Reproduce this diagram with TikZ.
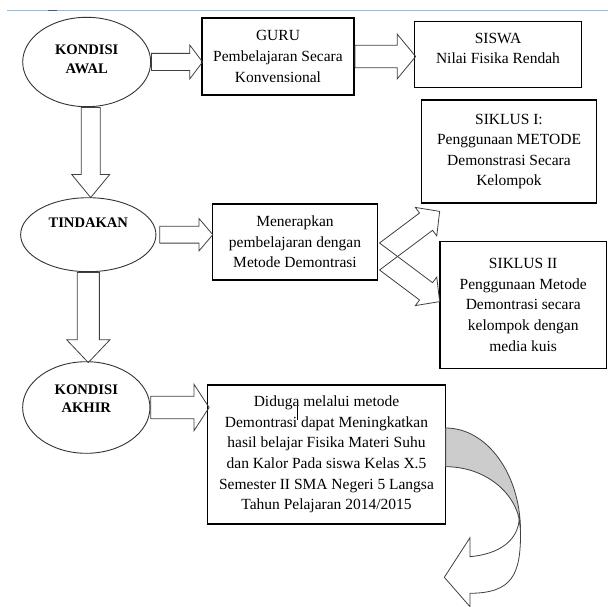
\documentclass[tikz,border=0pt]{standalone}
\usepackage{fontspec}
\setmainfont{Liberation Serif}
\usetikzlibrary{shapes.geometric,shapes.arrows}
\definecolor{garisbiru}{RGB}{150,186,232}
\definecolor{birutua}{RGB}{60,90,140}
\tikzstyle{kotak} = [draw, line width=1.1pt, align=center, inner sep=0pt, font=\fontsize{15.5}{20.6}\selectfont]
\tikzstyle{oval} = [ellipse, draw=black!80, line width=0.9pt, align=center, inner sep=0pt, font=\fontsize{14.6}{18.5}\selectfont\bfseries]
\tikzstyle{panah} = [single arrow, draw=black!75, line width=0.8pt, single arrow head indent=0pt, inner sep=0pt, anchor=tail]
\tikzstyle{garis} = [draw=black!75, line width=0.8pt, line join=miter]

\begin{document}
\begin{tikzpicture}[x=1pt, y=-1pt]
	  \useasboundingbox (0,0) rectangle (608,607);
	  \draw [garisbiru, line width=1pt] (7,10.7) -- (608,10.7);
	  \draw [birutua, line width=1.6pt] (48,10.7) -- (57,10.7);

	  \node (a) at (86.7,62) [oval, minimum width=128pt, minimum height=89.4pt, text depth=6pt] {KONDISI\\AWAL};
	  \node (b) at (278,56.5) [kotak, minimum width=152pt, minimum height=77pt] {GURU\\Pembelajaran Secara\\Konvensional};
	  \node (c) at (498,54.5) [kotak, minimum width=166.6pt, minimum height=65.6pt, text depth=12pt] {SISWA\\Nilai Fisika Rendah};
	  \node (d) at (88.3,234.7) [oval, minimum width=135.3pt, minimum height=74pt, text depth=24pt] {TINDAKAN};
	  \node (e) at (295,242) [kotak, minimum width=165.4pt, minimum height=76pt] {Menerapkan\\pembelajaran dengan\\Metode Demontrasi};
	  \node (f) at (509,151.5) [kotak, minimum width=175pt, minimum height=103pt] {SIKLUS I:\\Penggunaan METODE\\Demonstrasi Secara\\Kelompok};
	  \node (g) at (523.2,304.9) [kotak, minimum width=166.5pt, minimum height=126.3pt] {SIKLUS II\\Penggunaan Metode\\Demontrasi secara\\kelompok dengan\\media kuis};
	  \node (h) at (86.3,407.5) [oval, minimum width=127.3pt, minimum height=91.6pt, text depth=18pt] {KONDISI\\AKHIR};
	  \node (i) at (326.5,454.5) [kotak, minimum width=238.4pt, minimum height=139pt] {Diduga melalui metode\\Demontrasi dapat Meningkatkan\\hasil belajar Fisika Materi Suhu\\dan Kalor Pada siswa Kelas X.5\\Semester II SMA Negeri 5 Langsa\\Tahun Pelajaran 2014/2015};

	  \node (p1) at (a.east) [panah, minimum height=51pt, minimum width=33.3pt, inner ysep=8.2pt, single arrow head extend=8.45pt, single arrow tip angle=106] {};
	  \node (p2) at (b.east) [panah, minimum height=60.7pt, minimum width=44pt, inner ysep=10.8pt, single arrow head extend=11.2pt, single arrow tip angle=101] {};
	  \node (p3) at ([xshift=3pt]d.east) [panah, minimum height=53pt, minimum width=31.4pt, inner ysep=8pt, single arrow head extend=7.7pt, single arrow tip angle=99] {};
	  \node (p4) at (h.east) [panah, minimum height=58.3pt, minimum width=46pt, inner ysep=10.8pt, single arrow head extend=12.2pt, single arrow tip angle=114] {};
	  \node (p5) at ([xshift=4pt]a.south) [panah, rotate=-90, minimum height=90pt, minimum width=37.3pt, inner ysep=9.15pt, single arrow head extend=9.5pt, single arrow tip angle=79] {};
	  \node (p6) at (d.south) [panah, rotate=-90, minimum height=90pt, minimum width=42.3pt, inner ysep=10.65pt, single arrow head extend=10.5pt, single arrow tip angle=87] {};

	  \draw [garis] ([shift={(1.3,1)}]e.east) -- ++(40,-30) -- ++(-4.2,-5.6) -- ++(24.3,4) -- ++(-2.9,24.5) -- ++(-4.2,-5.6) -- ++(-53,39.7);
	  \draw [garis] ([shift={(1.3,28)}]e.east) -- ++(40,30) -- ++(-4.2,5.6) -- ++(24.3,-4) -- ++(-2.9,-24.5) -- ++(-4.2,5.6) -- ++(-53,-39.7);

	  \draw [garis, fill=gray!40] (445.7,428) .. controls (487,428) and (520.5,474) .. (520.5,531)
	        .. controls (520.5,495.5) and (487,466.7) .. (445.7,466.7) -- cycle;
	  \draw [garis, fill=white] (519.2,519) .. controls (518,540) and (500,554) .. (470,556.7) -- (470,537.7) -- (444.3,577.3) -- (470,606.7) -- (470,593.3)
	        .. controls (512,593) and (521,575) .. (520.5,531) -- cycle;

	  \draw [line width=0.8pt] (297.7,406) -- (297.7,420);
	\end{tikzpicture}
\end{document}
